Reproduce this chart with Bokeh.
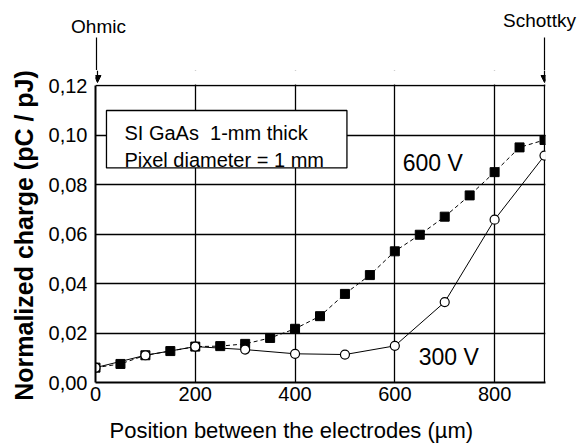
import math
from bokeh.plotting import figure
from bokeh.layouts import column, row
from bokeh.models import (Range1d, FixedTicker, CustomJSTickFormatter, Label, Arrow, NormalHead,
                          BoxAnnotation, ColumnDataSource, Title)
from bokeh.embed import file_html
from bokeh.resources import INLINE

# data
x600 = [0, 50, 100, 150, 200, 250, 300, 350, 400, 450, 500, 550, 600, 650, 700, 750, 800, 850, 900]
y600 = [0.006, 0.0075, 0.011, 0.0127, 0.0145, 0.0147, 0.0156, 0.018, 0.0217, 0.0268, 0.0358, 0.0434,
        0.053, 0.0597, 0.067, 0.0756, 0.085, 0.095, 0.098]
x300 = [0, 100, 200, 300, 400, 500, 600, 700, 800, 900]
y300 = [0.006, 0.011, 0.0145, 0.0133, 0.0116, 0.0113, 0.0148, 0.0325, 0.0658, 0.0917]
x_ticks = [0, 200, 400, 600, 800]
y_ticks = [0.0, 0.02, 0.04, 0.06, 0.08, 0.10, 0.12]
x_max = 900
y_max = 0.12

FONT = "Liberation Sans"
TOP_H = 70                     # height of the strip above the plot
FRAME_H = 297                  # plot frame height between 0 and y_max
EXTRA = 85 - TOP_H             # frame pixels above y_max
y_top = y_max * (FRAME_H + EXTRA) / FRAME_H


def blank(w, h, xr, yr):
    f = figure(frame_width=w, frame_height=h, x_range=xr, y_range=yr, output_backend="svg",
               toolbar_location=None, frame_align=False,
               min_border=0, min_border_left=0, min_border_right=0, min_border_top=0, min_border_bottom=0)
    f.axis.visible = False
    f.grid.visible = False
    f.outline_line_color = None
    f.background_fill_color = "white"
    f.border_fill_color = "white"
    return f


# ---- left strip: y axis title ----
left = blank(45, 448, Range1d(0, 45), Range1d(0, 448))
left.add_layout(Label(x=23, y=213, text="Normalized charge (pC / pJ)", angle=math.pi / 2,
                      text_font=FONT, text_font_size="25px", text_font_style="bold", text_color="black",
                      text_align="center", text_baseline="middle"))

# ---- top strip: electrode labels and arrow tails (x in same units as main plot) ----
top = blank(534, TOP_H, Range1d(-98, 970), Range1d(0, TOP_H))
top.add_layout(Label(x=8, y=TOP_H - 26, text="Ohmic", text_font=FONT, text_font_size="19px",
                     text_color="black", text_align="center", text_baseline="middle"))
top.add_layout(Label(x=890, y=TOP_H - 20, text="Schottky", text_font=FONT, text_font_size="19px",
                     text_color="black", text_align="center", text_baseline="middle"))
top.add_layout(Arrow(x_start=4, y_start=TOP_H - 37, x_end=4, y_end=0, line_width=1.2,
                     line_color="black", end=None))
top.add_layout(Arrow(x_start=x_max, y_start=TOP_H - 37, x_end=x_max, y_end=0, line_width=1.2,
                     line_color="black", end=None))

# ---- main plot ----
p = figure(frame_width=450, frame_height=FRAME_H + EXTRA, x_range=Range1d(0, x_max + 2),
           y_range=Range1d(0, y_top),
           output_backend="svg", toolbar_location=None, frame_align=False,
           min_border_left=49, min_border_right=35, min_border_top=0, min_border_bottom=66)
p.background_fill_color = "white"
p.border_fill_color = "white"
p.outline_line_color = None

p.xaxis.ticker = FixedTicker(ticks=x_ticks)
p.yaxis.ticker = FixedTicker(ticks=y_ticks)
p.yaxis.bounds = (0, y_max)
p.yaxis.formatter = CustomJSTickFormatter(code="return tick.toFixed(2).replace('.', ',');")
for ax in (p.xaxis, p.yaxis):
    ax.major_tick_in = 0
    ax.major_tick_out = 0
    ax.minor_tick_in = 0
    ax.minor_tick_out = 0
    ax.axis_line_color = "black"
    ax.axis_line_width = 2
    ax.major_label_text_font = FONT
    ax.major_label_text_font_size = "20px"
    ax.major_label_text_color = "black"

p.xaxis.major_label_standoff = 4
p.yaxis.major_label_standoff = 8
p.add_layout(Title(text="Position between the electrodes (\u00b5m)", align="left", offset=14,
                   text_font=FONT, text_font_size="22px", text_font_style="normal",
                   text_color="black", standoff=25), "below")

p.xgrid.ticker = FixedTicker(ticks=x_ticks + [x_max])
p.grid.grid_line_color = "black"
p.grid.grid_line_width = 1.3
p.grid.grid_line_alpha = 1.0

# white mask above the top frame line, then the arrow heads
p.add_layout(BoxAnnotation(bottom=y_max + 0.0004, fill_color="white", fill_alpha=1.0,
                           line_alpha=0, level="annotation"))
p.add_layout(Arrow(x_start=4, y_start=y_top, x_end=4, y_end=y_max + 0.0012, line_width=1.2,
                   line_color="black", end=NormalHead(size=7, fill_color="black", line_color="black"),
                   level="overlay"))
p.add_layout(Arrow(x_start=x_max, y_start=y_top, x_end=x_max, y_end=y_max + 0.0012, line_width=1.2,
                   line_color="black", end=NormalHead(size=7, fill_color="black", line_color="black"),
                   level="overlay"))

# text box
p.add_layout(BoxAnnotation(left=22, right=504, bottom=0.0867, top=0.1099,
                           fill_color="white", fill_alpha=1.0,
                           line_color="black", line_alpha=1.0, line_width=1.3, level="overlay"))
p.add_layout(Label(x=58, y=0.1010, text="SI GaAs\u00a0 1-mm thick", text_font=FONT, text_color="black",
                   text_font_size="20px", text_baseline="alphabetic", level="overlay"))
p.add_layout(Label(x=58, y=0.0897, text="Pixel diameter = 1 mm", text_font=FONT, text_color="black",
                   text_font_size="20px", text_baseline="alphabetic", level="overlay"))

src600 = ColumnDataSource(dict(x=x600, y=y600))
src300 = ColumnDataSource(dict(x=x300, y=y300))
p.line("x", "y", source=src600, line_color="black", line_width=1, line_dash="4 3")
p.line("x", "y", source=src300, line_color="black", line_width=1)
p.scatter("x", "y", source=src600, marker="square", size=9, fill_color="black", line_color="black")
p.scatter("x", "y", source=src300, marker="circle", size=9, fill_color="white", line_color="black", line_width=1.2)

p.add_layout(Label(x=676, y=0.0885, text="600 V", text_font=FONT, text_font_size="23px", text_color="black",
                   text_align="center", text_baseline="middle"))
p.add_layout(Label(x=708, y=0.0105, text="300 V", text_font=FONT, text_font_size="23px", text_color="black",
                   text_align="center", text_baseline="middle"))

layout = row(left, column(top, p, spacing=0), spacing=0)
open("out.html", "w").write(file_html(layout, INLINE))
